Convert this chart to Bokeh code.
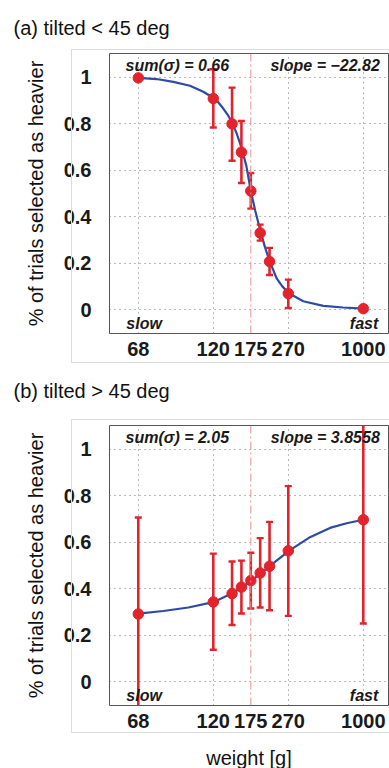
from bokeh.plotting import figure
from bokeh.models import (FixedTicker, Span, Label, Title, Range1d, InlineStyleSheet)
from bokeh.layouts import column
from bokeh.embed import file_html
from bokeh.resources import INLINE

# ---------------- data ----------------
# x positions on the (non-linear) weight scale: tick labels at positions 0,1,1.5,2,3
tick_pos = [0, 1, 1.5, 2, 3]
tick_labels = ["68", "120", "175", "270", "1000"]
x_pos = [0, 1, 1.25, 1.375, 1.5, 1.625, 1.75, 2, 3]

y_ticks = [0, 0.2, 0.4, 0.6, 0.8, 1]
y_tick_labels = ["0", "0.2", "0.4", "0.6", "0.8", "1"]

# panel (a) tilted < 45 deg
a_title = "(a) tilted < 45 deg"
a_y = [0.998, 0.909, 0.800, 0.678, 0.511, 0.330, 0.207, 0.069, 0.004]
a_hi = [0.998, 1.035, 0.956, 0.812, 0.588, 0.366, 0.266, 0.129, 0.004]
a_lo = [0.998, 0.784, 0.641, 0.545, 0.435, 0.297, 0.149, 0.007, 0.004]
a_curve_x = [0, 0.245, 0.467, 0.689, 0.867, 1.013, 1.06, 1.133, 1.19, 1.245, 1.31,
             1.379, 1.44, 1.5, 1.56, 1.632, 1.69, 1.747, 1.845, 1.92, 2.013, 2.2,
             2.467, 2.733, 3]
a_curve_y = [0.998, 0.993, 0.981, 0.964, 0.938, 0.909, 0.895, 0.866, 0.840, 0.809, 0.760,
             0.694, 0.620, 0.511, 0.425, 0.334, 0.268, 0.212, 0.134, 0.100, 0.069, 0.036,
             0.016, 0.009, 0.004]
a_sum = "sum(σ) = 0.66"
a_slope = "slope = −22.82"

# panel (b) tilted > 45 deg
b_title = "(b) tilted > 45 deg"
b_y = [0.291, 0.343, 0.379, 0.407, 0.435, 0.468, 0.497, 0.563, 0.697]
b_hi = [0.707, 0.551, 0.517, 0.521, 0.555, 0.618, 0.688, 0.842, 1.25]
b_lo = [-0.25, 0.137, 0.244, 0.293, 0.315, 0.319, 0.307, 0.283, 0.250]
b_curve_x = [0, 0.333, 0.667, 1, 1.245, 1.503, 1.747, 2.013, 2.289, 2.556, 2.778, 3]
b_curve_y = [0.293, 0.304, 0.319, 0.342, 0.379, 0.433, 0.496, 0.564, 0.622, 0.662, 0.682, 0.697]
b_sum = "sum(σ) = 2.05"
b_slope = "slope = 3.8558"

RED = "#e2232c"
BLUE = "#2d4ba3"
FONT = "Liberation Sans"


def box_css(top):
    return InlineStyleSheet(css=f"""
:host {{ position: relative; }}
:host::after {{
  content: ""; position: absolute; left: 71px; top: {top}px; width: 318px; height: 314px;
  box-sizing: border-box; border: 1px solid #dcdcdc; border-right: none;
  pointer-events: none;
}}
""")


def title_model(text, standoff):
    return Title(text=text, align="left", offset=-96, text_font=FONT,
                 text_font_size="20px", text_font_style="normal",
                 text_color="#111111", standoff=standoff)


def make_panel(ys, his, los, cx, cy, s_sum, s_slope, top_border, bottom_border,
               box_top, xlabel=None):
    p = figure(frame_width=279, frame_height=280, output_backend="svg",
               toolbar_location=None, min_border_left=109, min_border_right=1,
               min_border_top=top_border, min_border_bottom=bottom_border,
               x_range=Range1d(-0.384, 3.336), y_range=Range1d(-0.103, 1.103),
               title=None)
    p.background_fill_color = "white"
    p.border_fill_color = "white"
    p.outline_line_color = "#555555"
    p.outline_line_width = 1
    p.stylesheets = [box_css(box_top)]

    # axes
    p.xaxis.ticker = FixedTicker(ticks=tick_pos)
    p.xaxis.major_label_overrides = dict(zip(tick_pos, tick_labels))
    p.yaxis.ticker = FixedTicker(ticks=y_ticks)
    p.yaxis.major_label_overrides = dict(zip(y_ticks, y_tick_labels))
    for ax in (p.xaxis[0], p.yaxis[0]):
        ax.axis_line_color = None
        ax.major_tick_line_color = None
        ax.minor_tick_line_color = None
        ax.major_label_text_font = FONT
        ax.major_label_text_font_size = "20px"
        ax.major_label_text_font_style = "bold"
        ax.major_label_text_color = "#1a1a1a"
        ax.axis_label_text_font = FONT
        ax.axis_label_text_font_size = "20px"
        ax.axis_label_text_font_style = "normal"
        ax.axis_label_text_color = "#111111"
    p.xaxis.major_label_standoff = 2
    p.yaxis.major_label_standoff = 12
    p.yaxis.axis_label = "% of trials selected as heavier"
    p.yaxis.axis_label_standoff = 14
    if xlabel:
        p.xaxis.axis_label = xlabel
        p.xaxis.axis_label_standoff = 16

    # grid
    p.xgrid.ticker = FixedTicker(ticks=[t for t in tick_pos if t != 1.5])
    p.ygrid.ticker = FixedTicker(ticks=y_ticks)
    for g in (p.xgrid[0], p.ygrid[0]):
        g.grid_line_color = "#777777"
        g.grid_line_dash = "1 4"
        g.grid_line_width = 1

    # reference line at 175
    p.add_layout(Span(location=1.5, dimension="height", line_color="#ef8f8f",
                      line_width=1, line_dash="8 3 2 3"))

    # fitted curve
    p.line(cx, cy, line_color=BLUE, line_width=2.2)

    # error bars
    p.segment(x0=x_pos, y0=los, x1=x_pos, y1=his, line_color=RED, line_width=2.6)
    p.scatter(x_pos, his, marker="dash", size=7, line_color=RED, line_width=2.4)
    p.scatter(x_pos, los, marker="dash", size=7, line_color=RED, line_width=2.4)
    # points
    p.scatter(x_pos, ys, size=10.5, fill_color=RED, line_color=RED)

    # in-plot texts
    common = dict(text_font=FONT, text_font_size="16px", text_font_style="bold italic",
                  text_color="#1a1a1a", text_baseline="middle")
    p.add_layout(Label(x=-0.17, y=1.05, text=s_sum, text_align="left", **common))
    p.add_layout(Label(x=3.22, y=1.05, text=s_slope, text_align="right", **common))
    p.add_layout(Label(x=-0.16, y=-0.058, text="slow", text_align="left", **common))
    p.add_layout(Label(x=3.20, y=-0.058, text="fast", text_align="right", **common))
    return p


pa = make_panel(a_y, a_hi, a_lo, a_curve_x, a_curve_y, a_sum, a_slope,
                53, 88, 49)
pa.add_layout(title_model(a_title, 29), "above")
# heading of panel (b) sits in the lower margin of the upper figure
pa.add_layout(title_model(b_title, 38), "below")

pb = make_panel(b_y, b_hi, b_lo, b_curve_x, b_curve_y, b_sum, b_slope,
                4, 63, -2, xlabel="weight [g]")

layout = column(pa, pb, spacing=0)
open("out.html", "w").write(file_html(layout, INLINE))
